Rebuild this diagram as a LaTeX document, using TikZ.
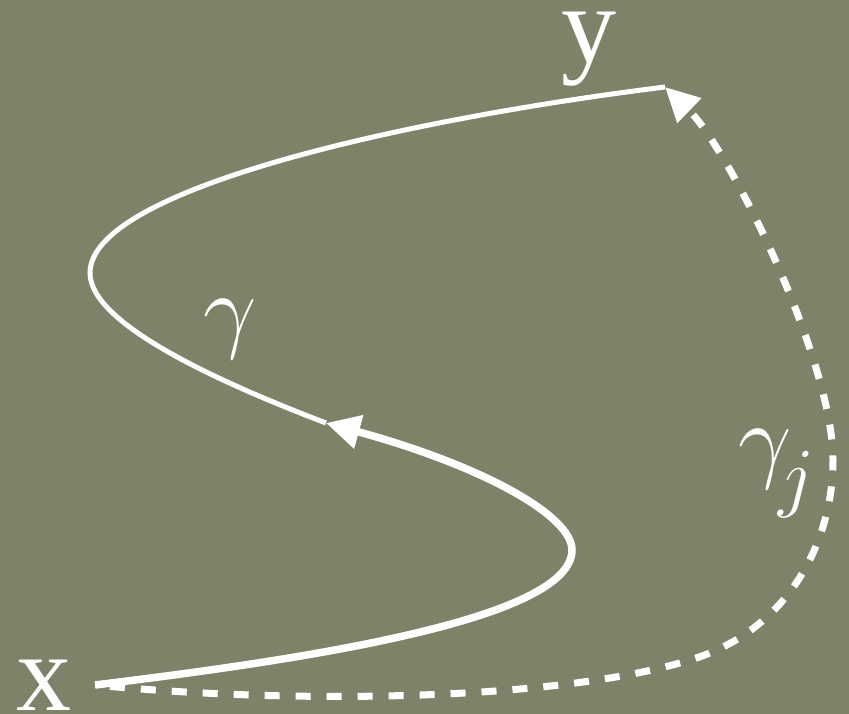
\RequirePackage{fix-cm}
\documentclass[tikz,border=0pt]{standalone}
\usepackage{fontspec}
\setmainfont{Liberation Serif}
\usetikzlibrary{arrows.meta}
\definecolor{olivebg}{RGB}{127,130,104}
\definecolor{chalk}{RGB}{255,255,255}
\tikzset{
  pointlabel/.style={text=chalk,inner sep=0pt,anchor=base,
    font=\fontsize{110}{110}\selectfont},
  curvelabel/.style={text=chalk,inner sep=0pt,anchor=base,
    font=\fontsize{95}{95}\selectfont},
  bigtip/.style={-{Triangle[length=34pt,width=33pt]}},
}
\begin{document}
\begin{tikzpicture}[x=1pt,y=-1pt]
  \fill[olivebg] (0,0) rectangle (849,714);
  \useasboundingbox (0,0) rectangle (849,714);
  \coordinate (xpt) at (95,685);
  \coordinate (ypt) at (665,87);
  \coordinate (turn) at (572,550);
  \coordinate (mid) at (326,423);
  \coordinate (far) at (833,460);
  \draw[chalk,line width=7pt,dash pattern=on 15pt off 16pt,dash phase=16pt,bigtip]
    (xpt) .. controls (300,705) and (560,700) .. (690,660)
    .. controls (790,630) and (833,540) .. (far)
    .. controls (833,360) and (730,150) .. (ypt);
  \draw[chalk,line width=7.5pt,bigtip]
    (xpt) .. controls (300,660) and (572,620) .. (turn)
    .. controls (572,515) and (480,465) .. (mid);
  \draw[chalk,line width=5pt]
    (mid) .. controls (200,375) and (90,320) .. (90,273)
    .. controls (90,190) and (400,120) .. (ypt);
  \node[pointlabel] (xlab) at (44,710) {x};
  \node[pointlabel] (ylab) at (589,63) {y};
  \node[curvelabel] (gam) at (230,340) {$\gamma$};
  \node[curvelabel,anchor=base west] (gamj) at (738,470)
    {$\gamma$\kern-13pt\raisebox{-32pt}{\fontsize{78}{78}\selectfont$j$}};
\end{tikzpicture}
\end{document}
